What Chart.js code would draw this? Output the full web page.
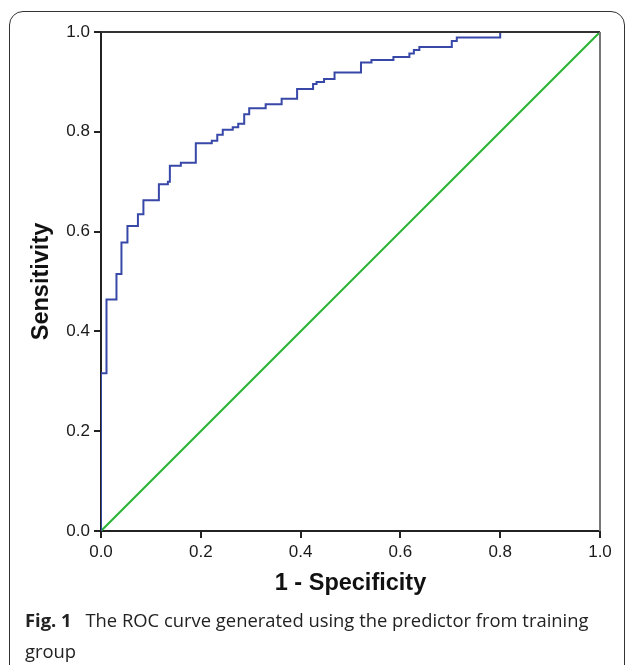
<!DOCTYPE html>
<html>
<head>
<meta charset="utf-8">
<script src="https://cdn.jsdelivr.net/npm/chart.js@4"></script>
<style>
  html, body { margin: 0; padding: 0; background: #fff; }
  #wrap { position: absolute; left: 0; top: 0; width: 630px; height: 665px; overflow: hidden; }
  #frame { position: absolute; left: 9px; top: 11px; width: 616px; height: 670px; border: 1.3px solid #333; border-radius: 14px; box-sizing: border-box; }
  #box { position: absolute; left: 0; top: 0; width: 630px; height: 665px; }
  #caption { position: absolute; left: 25px; top: 604px; font-family: "Open Sans", sans-serif; font-size: 18.4px; line-height: 31px; color: #222; white-space: nowrap; }
  #caption b { font-weight: 700; margin-right: 9px; }
</style>
</head>
<body>
<div id="wrap">
  <div id="frame"></div>
  <div id="box"><canvas id="c"></canvas></div>
  <div id="caption"><b>Fig. 1</b> The ROC curve generated using the predictor from training<br>group</div>
</div>
<script>
// ROC curve points (1 - specificity, sensitivity)
const fpr = [0, 0, 0.011, 0.031, 0.041, 0.053, 0.074, 0.085, 0.116, 0.134, 0.138, 0.160, 0.190, 0.222, 0.233, 0.244, 0.264, 0.275, 0.287, 0.297, 0.330, 0.362, 0.393, 0.425, 0.432, 0.447, 0.468, 0.521, 0.542, 0.586, 0.618, 0.627, 0.638, 0.703, 0.713, 0.800, 1.0];
const tpr = [0, 0.316, 0.464, 0.515, 0.578, 0.611, 0.635, 0.663, 0.695, 0.700, 0.732, 0.738, 0.777, 0.782, 0.794, 0.804, 0.809, 0.816, 0.835, 0.847, 0.855, 0.866, 0.886, 0.896, 0.900, 0.906, 0.919, 0.939, 0.944, 0.950, 0.957, 0.964, 0.970, 0.982, 0.989, 1.0, 1.0];
// Reference line
const refX = [0, 1];
const refY = [0, 1];
const tickValues = [0, 0.2, 0.4, 0.6, 0.8, 1.0];
const xTitle = '1 - Specificity';
const yTitle = 'Sensitivity';

const frameBox = {
  id: 'frameBox',
  afterDatasetsDraw(chart) {
    const {ctx, chartArea: a} = chart;
    ctx.save();
    ctx.lineWidth = 2;
    ctx.strokeStyle = '#333';
    ctx.beginPath();
    ctx.moveTo(a.left, a.top);
    ctx.lineTo(a.right, a.top);
    ctx.stroke();
    ctx.strokeStyle = '#777';
    ctx.beginPath();
    ctx.moveTo(a.right, a.top);
    ctx.lineTo(a.right, a.bottom);
    ctx.stroke();
    ctx.restore();
  }
};

const tickFont = { family: '"Liberation Sans", Arial, sans-serif', size: 17 };
const titleFont = { family: '"Liberation Sans", Arial, sans-serif', size: 23.5, weight: 'bold' };

new Chart(document.getElementById('c'), {
  type: 'scatter',
  data: {
    datasets: [
      {
        data: fpr.map((x, i) => ({x: x, y: tpr[i]})),
        showLine: true,
        stepped: 'before',
        borderColor: 'rgb(55,72,168)',
        borderWidth: 2,
        pointRadius: 0,
        fill: false
      },
      {
        data: refX.map((x, i) => ({x: x, y: refY[i]})),
        showLine: true,
        borderColor: 'rgb(40,180,50)',
        borderWidth: 2,
        pointRadius: 0,
        fill: false
      }
    ]
  },
  options: {
    responsive: true,
    maintainAspectRatio: false,
    animation: false,
    layout: { padding: { left: 27, top: 32, right: 30, bottom: 67 } },
    plugins: { legend: { display: false }, tooltip: { enabled: false } },
    scales: {
      x: {
        type: 'linear', min: 0, max: 1,
        afterBuildTicks(s) { s.ticks = tickValues.map(v => ({value: v})); },
        afterFit(s) { s.height = 67; s.paddingLeft = 0; s.paddingRight = 0; },
        ticks: { callback: v => v.toFixed(1), font: tickFont, color: '#1a1a1a', padding: 4, maxRotation: 0 },
        grid: { drawOnChartArea: false, drawTicks: true, tickLength: 7, color: '#222', lineWidth: 2 },
        border: { color: '#222', width: 2 },
        title: { display: true, text: xTitle, font: titleFont, color: '#111', padding: 0 }
      },
      y: {
        type: 'linear', min: 0, max: 1,
        afterBuildTicks(s) { s.ticks = tickValues.map(v => ({value: v})); },
        afterFit(s) { s.width = 74; s.paddingTop = 0; s.paddingBottom = 0; },
        ticks: { callback: v => v.toFixed(1), font: tickFont, color: '#1a1a1a', padding: 4 },
        grid: { drawOnChartArea: false, drawTicks: true, tickLength: 7, color: '#222', lineWidth: 2 },
        border: { color: '#222', width: 2 },
        title: { display: true, text: yTitle, font: titleFont, color: '#111', padding: 0 }
      }
    }
  },
  plugins: [frameBox]
});
</script>
</body>
</html>
